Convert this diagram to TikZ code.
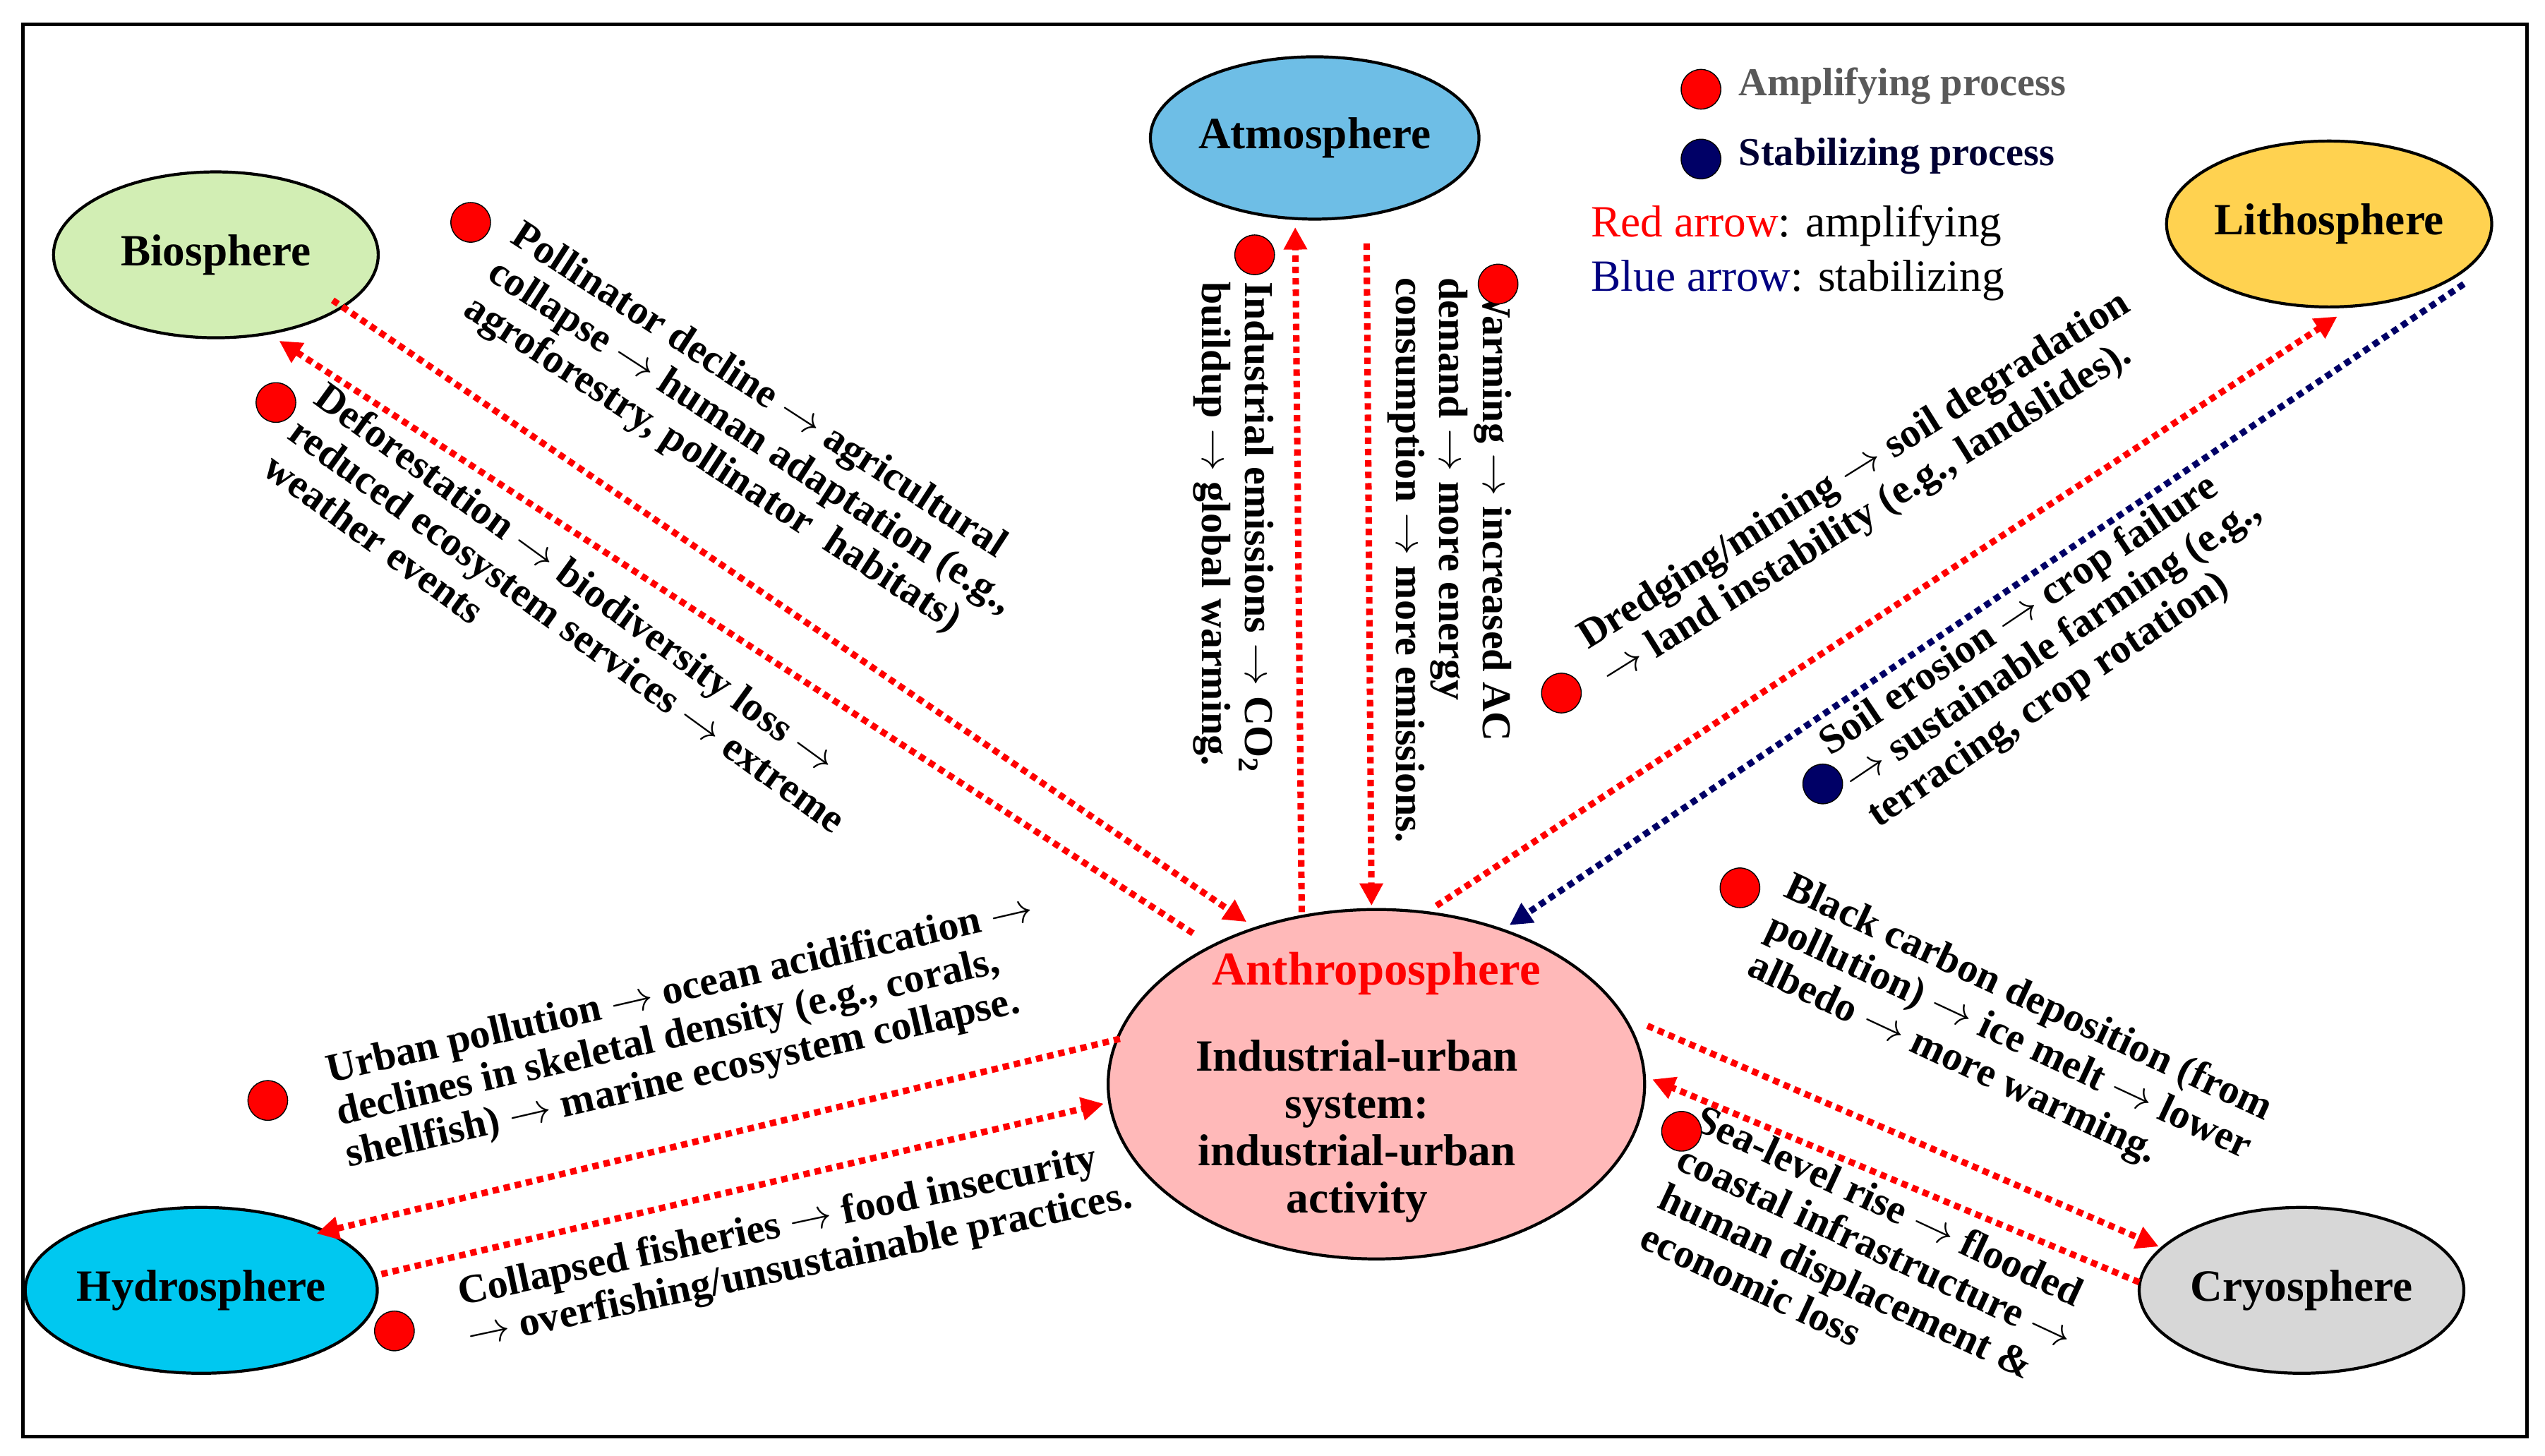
\documentclass[tikz,border=0pt]{standalone}
\usepackage{fontspec}
\setmainfont{Liberation Serif}
\usetikzlibrary{arrows.meta,shapes.geometric}
\begin{document}
\begin{tikzpicture}[x=0.023cm,y=-0.023cm,
  sph/.style={draw=black,line width=1.2pt,ellipse,inner sep=0pt,font=\fontsize{18}{20}\selectfont\bfseries,minimum width=4.6cm,minimum height=2.35cm},
  ra/.style={draw=red,line width=2.6pt,dotted,-{Triangle[length=9pt,width=9pt]}},
  ba/.style={draw=blue!40!black,line width=2.6pt,dotted,-{Triangle[length=9pt,width=9pt]}},
  txt/.style={align=left,font=\fontsize{16.5}{17.5}\selectfont\bfseries,inner sep=0pt},
  rdot/.style={circle,draw=black,fill=red,minimum size=16pt,inner sep=0pt},
  bdot/.style={circle,draw=black,fill=blue!40!black,minimum size=16pt,inner sep=0pt}]
\useasboundingbox (0,0) rectangle (1568,897);
\draw[line width=1.5pt] (14,15) rectangle (1557,885);
\node[sph,fill={rgb,255:red,110;green,190;blue,230},minimum height=2.3cm] (atm) at (810,85) {Atmosphere};
\node[sph,fill={rgb,255:red,210;green,238;blue,180}] (bio) at (133,157) {Biosphere};
\node[sph,fill={rgb,255:red,255;green,210;blue,80},minimum width=4.15cm] (lit) at (1435,138) {Lithosphere};
\node[sph,fill={rgb,255:red,0;green,200;blue,240}] (hyd) at (124,795) {Hydrosphere};
\node[sph,fill={rgb,255:red,215;green,215;blue,215}] (cry) at (1418,795) {Cryosphere};
\node[sph,fill={rgb,255:red,255;green,185;blue,185},minimum width=7.6cm,minimum height=4.95cm] (ant) at (848,668) {};
\node[font=\fontsize{19}{21}\selectfont\bfseries,text=red] (antT) at (848,600) {Anthroposphere};
\node[font=\fontsize{18}{19}\selectfont\bfseries,align=center] (antB) at (836,697) {Industrial-urban\\system:\\industrial-urban\\activity};
% coordinates
\coordinate (b1) at (205,185); \coordinate (a1) at (768,568);
\coordinate (a2) at (735,575); \coordinate (b2) at (172,210);
\coordinate (a3) at (802,562); \coordinate (t3) at (798,140);
\coordinate (t4) at (842,150); \coordinate (a4) at (845,558);
\coordinate (a5) at (885,558); \coordinate (l5) at (1440,195);
\coordinate (l6) at (1518,175); \coordinate (a6) at (930,570);
\coordinate (a7) at (690,640); \coordinate (h7) at (195,760);
\coordinate (h8) at (235,785); \coordinate (a8) at (680,680);
\coordinate (a9) at (1015,632); \coordinate (c9) at (1330,768);
\coordinate (c10) at (1318,790); \coordinate (a10) at (1018,665);
\draw[ra] (b1) -- (a1); \draw[ra] (a2) -- (b2);
\draw[ra] (a3) -- (t3); \draw[ra] (t4) -- (a4);
\draw[ra] (a5) -- (l5); \draw[ba] (l6) -- (a6);
\draw[ra] (a7) -- (h7); \draw[ra] (h8) -- (a8);
\draw[ra] (a9) -- (c9); \draw[ra] (c10) -- (a10);
% texts
\node[txt,rotate=-33] (p1) at (462,270) {Pollinator decline $\to$ agricultural\\collapse $\to$ human adaptation (e.g.,\\agroforestry, pollinator\ \ habitats)};
\node[txt,rotate=-36] (p2) at (350,385) {Deforestation $\to$ biodiversity loss $\to$\\reduced ecosystem services $\to$ extreme\\weather events};
\node[txt,rotate=-90] (p3) at (760,325) {Industrial emissions $\to$ CO\textsubscript{2}\\buildup $\to$ global warming.};
\node[txt,rotate=-90] (p4) at (893,345) {Warming $\to$ increased AC\\demand $\to$ more energy\\consumption $\to$ more emissions.};
\node[txt,rotate=32] (p5) at (1150,302) {Dredging/mining $\to$ soil degradation\\$\to$ land instability (e.g., landslides).};
\node[txt,rotate=34] (p6) at (1265,398) {Soil erosion $\to$ crop failure\\$\to$ sustainable farming (e.g.,\\terracing, crop rotation)};
\node[txt,rotate=13] (p7) at (425,637) {Urban pollution $\to$ ocean acidification $\to$\\declines in skeletal density (e.g., corals,\\shellfish) $\to$ marine ecosystem collapse.};
\node[txt,rotate=12] (p8) at (490,768) {Collapsed fisheries $\to$ food insecurity\\$\to$ overfishing/unsustainable practices.};
\node[txt,rotate=-25] (p9) at (1238,640) {Black carbon deposition (from\\pollution) $\to$ ice melt $\to$ lower\\albedo $\to$ more warming.};
\node[txt,rotate=-25] (p10) at (1150,780) {Sea-level rise $\to$ flooded\\coastal infrastructure $\to$\\human displacement \&\\economic loss};
% dots
\node[rdot] (d1) at (290,137) {}; \node[rdot] (d2) at (170,248) {};
\node[rdot] (d3) at (773,157) {}; \node[rdot] (d4) at (923,175) {};
\node[rdot] (d5) at (962,427) {}; \node[bdot] (d6) at (1123,483) {};
\node[rdot] (d7) at (165,678) {}; \node[rdot] (d8) at (243,820) {};
\node[rdot] (d9) at (1072,547) {}; \node[rdot] (d10) at (1036,697) {};
% legend
\node[rdot] (l1) at (1048,55) {};
\node[anchor=west,font=\fontsize{16}{18}\selectfont\bfseries,text=black!65] (lt1) at (1066,53) {Amplifying process};
\node[bdot] (l2) at (1048,98) {};
\node[anchor=west,font=\fontsize{16}{18}\selectfont\bfseries,text=blue!20!black] (lt2) at (1066,96) {Stabilizing process};
\node[anchor=west,font=\fontsize{18}{20}\selectfont] (lt3) at (975,139) {\textcolor{red}{Red arrow}: amplifying};
\node[anchor=west,font=\fontsize{18}{20}\selectfont] (lt4) at (975,173) {\textcolor{blue!50!black}{Blue arrow}: stabilizing};
\end{tikzpicture}
\end{document}
